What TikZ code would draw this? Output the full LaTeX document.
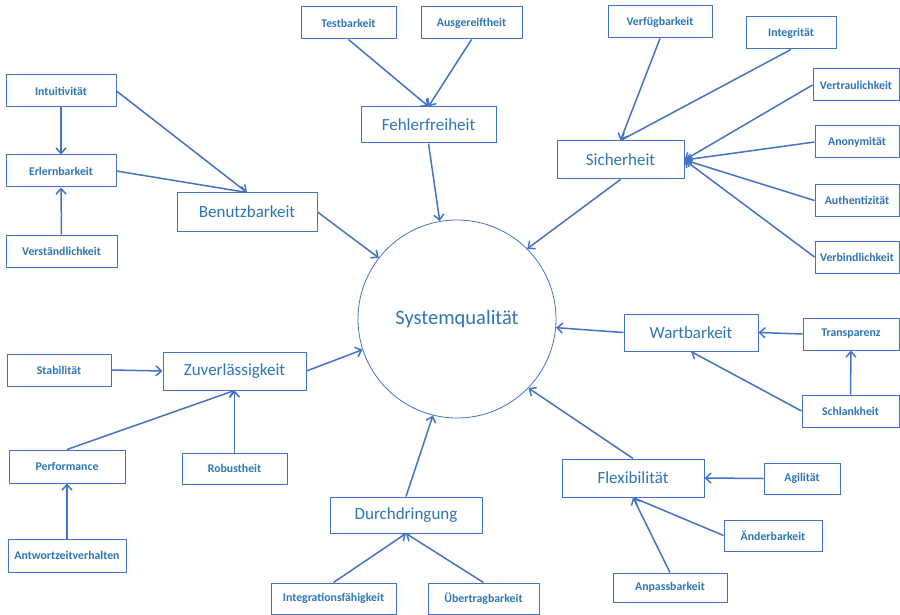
\documentclass[tikz,border=0pt]{standalone}
\usepackage{fontspec}
\setmainfont{Carlito}
\usetikzlibrary{arrows.meta}
\definecolor{qblue}{RGB}{68,114,196}
\definecolor{qtext}{RGB}{46,117,182}
\pgfdeclarelayer{edgelayer}
\pgfdeclarelayer{nodelayer}
\pgfsetlayers{edgelayer,nodelayer,main}
\tikzstyle{arrow}=[draw=qblue, line width=1.5pt, -{Straight Barb[length=5.5pt,width=10pt]}]
\tikzstyle{leaf}=[rectangle, fill=white, draw=qblue, line width=1pt, text=qtext, font=\bfseries\fontsize{11.8}{14}\selectfont, minimum height=32pt]
\tikzstyle{aspect}=[rectangle, fill=white, draw=qblue, line width=1pt, text=qtext, font=\fontsize{17}{20}\selectfont, minimum height=38pt]
\tikzstyle{core}=[circle, fill=white, draw=qblue, line width=0.8pt, text=qtext, minimum size=198pt, font=\fontsize{20.5}{24}\selectfont]

\begin{document}
\begin{tikzpicture}[x=1pt,y=-1pt]
\useasboundingbox (0,0) rectangle (900,615);
						\begin{pgfonlayer}{nodelayer}
							\node [style=core] (0) at (457, 319) {Systemqualität};
							\node [style=aspect, minimum width=140pt] (1) at (247, 212) {Benutzbarkeit};
							\node [style=leaf, minimum width=110pt] (2) at (61, 91) {Intuitivität};
							\node [style=leaf, minimum width=110pt] (3) at (61, 171) {Erlernbarkeit};
							\node [style=leaf, minimum width=111pt] (4) at (61.5, 251) {Verständlichkeit};
							\node [style=aspect, minimum width=135pt, minimum height=36pt] (5) at (428.5, 125) {Fehlerfreiheit};
							\node [style=leaf, minimum width=95pt] (6) at (348.5, 23) {Testbarkeit};
							\node [style=leaf, minimum width=101pt] (7) at (471.5, 23) {Ausgereiftheit};
							\node [style=aspect, minimum width=127pt] (8) at (620.5, 160) {Sicherheit};
							\node [style=leaf, minimum width=104pt] (9) at (660, 22) {Verfügbarkeit};
							\node [style=leaf, minimum width=90pt] (10) at (791, 33) {Integrität};
							\node [style=leaf, minimum width=86pt] (11) at (856, 85) {Vertraulichkeit};
							\node [style=leaf, minimum width=84pt] (12) at (857, 142) {Anonymität};
							\node [style=leaf, minimum width=84pt] (13) at (857, 200.5) {Authentizität};
							\node [style=leaf, minimum width=84pt] (14) at (857, 257) {Verbindlichkeit};
							\node [style=aspect, minimum width=134pt, minimum height=37pt] (15) at (691, 332.5) {Wartbarkeit};
							\node [style=leaf, minimum width=96pt] (16) at (851, 334) {Transparenz};
							\node [style=leaf, minimum width=97pt] (17) at (850.5, 411) {Schlankheit};
							\node [style=aspect, minimum width=142pt] (18) at (633, 478) {Flexibilität};
							\node [style=leaf, minimum width=76pt, minimum height=31pt] (19) at (802, 478.5) {Agilität};
							\node [style=leaf, minimum width=98pt, minimum height=31pt] (20) at (773, 535.5) {Änderbarkeit};
							\node [style=leaf, minimum width=114pt, minimum height=29pt] (21) at (670, 587.5) {Anpassbarkeit};
							\node [style=aspect, minimum width=152pt, minimum height=36pt] (22) at (406, 515) {Durchdringung};
							\node [style=leaf, minimum width=125pt, minimum height=31pt] (23) at (333.5, 598.5) {Integrationsfähigkeit};
							\node [style=leaf, minimum width=111pt, minimum height=31pt] (24) at (483.5, 598.5) {Übertragbarkeit};
							\node [style=aspect, minimum width=143pt] (25) at (234.5, 371) {Zuverlässigkeit};
							\node [style=leaf, minimum width=104pt] (26) at (59, 370) {Stabilität};
							\node [style=leaf, minimum width=116pt, minimum height=33pt] (27) at (67, 466.5) {Performance};
							\node [style=leaf, minimum width=105pt, minimum height=31pt] (28) at (234.5, 468.5) {Robustheit};
							\node [style=leaf, minimum width=118pt, minimum height=33pt] (29) at (67, 555.5) {Antwortzeitverhalten};
						\end{pgfonlayer}
						\begin{pgfonlayer}{edgelayer}
							\draw [style=arrow] (1.east) to (0.142);
							\draw [style=arrow] (2.east) to (1.north);
							\draw [style=arrow] (3.east) to (1.north);
							\draw [style=arrow] (2.south) to (3.north);
							\draw [style=arrow] (4.north) to (3.south);
							\draw [style=arrow] (5.south) to (0.100);
							\draw [style=arrow] (6.south) to (5.north);
							\draw [style=arrow] (7.south) to (5.north);
							\draw [style=arrow] (8.south) to (0.45);
							\draw [style=arrow] (9.south) to (8.north);
							\draw [style=arrow] (10.south) to (8.north);
							\draw [style=arrow] (11.west) to (8.east);
							\draw [style=arrow] (12.west) to (8.east);
							\draw [style=arrow] (13.west) to (8.east);
							\draw [style=arrow] (14.west) to (8.east);
							\draw [style=arrow] (15.west) to (0.-5);
							\draw [style=arrow] (16.west) to (15.east);
							\draw [style=arrow] (17.west) to (15.south);
							\draw [style=arrow] (17.north) to (16.south);
							\draw [style=arrow] (18.north) to (0.-44);
							\draw [style=arrow] (19.west) to (18.east);
							\draw [style=arrow] (20.west) to (18.south);
							\draw [style=arrow] (21.north) to (18.south);
							\draw [style=arrow] (22.north) to (0.-104);
							\draw [style=arrow] (23.north) to (22.south);
							\draw [style=arrow] (24.north) to (22.south);
							\draw [style=arrow] (25.east) to (0.198);
							\draw [style=arrow] (26.east) to (25.west);
							\draw [style=arrow] (27.north) to (25.south);
							\draw [style=arrow] (28.north) to (25.south);
							\draw [style=arrow] (29.north) to (27.south);
						\end{pgfonlayer}
\end{tikzpicture}
\end{document}
